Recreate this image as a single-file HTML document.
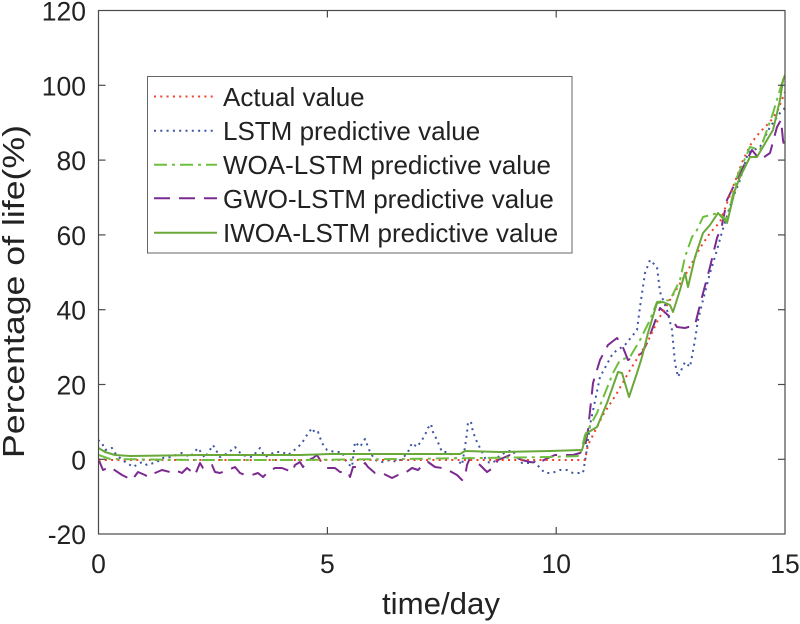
<!DOCTYPE html>
<html><head><meta charset="utf-8"><style>
html,body{margin:0;padding:0;background:#fff;}
svg{display:block;}
text{font-family:"Liberation Sans",Arial,sans-serif;fill:#222;}
</style></head><body>
<svg width="800" height="624" viewBox="0 0 800 624" xmlns="http://www.w3.org/2000/svg">
<defs><clipPath id="pa"><rect x="98.5" y="10.5" width="686.5" height="523.5"/></clipPath></defs>
<rect x="0" y="0" width="800" height="624" fill="#fff"/>
<g clip-path="url(#pa)" fill="none" stroke-width="2" stroke-linejoin="round">
<!-- GWO -->
<polyline stroke="#7b2a8f" stroke-dasharray="16 9" points="98,458 103,470 110,467 122,475 128,478 132,480 138,472 145,475 148,477 155,473 162,470 170,472 175,470 182,473 187,468 192,472 195,475 200,463 203,468 212,465 215,472 220,473 228,470 235,467 240,473 245,475 252,475 258,473 263,477 268,472 275,468 282,468 292,472 295,465 300,462 303,467 308,460 313,458 317,455 322,463 327,468 335,468 340,472 348,472 350,477 353,467 360,467 365,463 368,467 375,473 382,473 392,478 398,475 405,473 412,468 418,470 423,465 428,462 435,467 442,468 448,470 457,475 462,480 465,477 467,465 470,458 473,460 480,465 487,472 493,468 498,460 503,458 510,455 517,458 522,460 530,462 537,463 540,462 548,458 555,455 562,455 573,455 580,453 585,447 588,430 593,383 600,360 608,345 617,338 622,345 628,360 635,357 642,353 647,343 653,327 660,308 670,317 677,327 685,328 695,325 702,297 710,267 717,238 722,225 727,200 740,173 752,150 760,160 770,153 777,127 781,120 783,140 785,150"/>
<!-- LSTM -->
<polyline stroke="#3e54a3" stroke-dasharray="2 4.3" points="98,440 102,443 105,450 112,448 115,453 122,460 127,463 133,467 142,462 147,465 157,462 162,458 170,457 182,453 190,457 198,448 205,458 213,445 220,457 228,453 235,447 242,455 252,457 260,448 265,457 275,452 282,452 288,455 297,448 302,443 307,435 312,428 315,433 318,432 322,443 327,450 335,452 342,452 347,463 352,467 355,442 360,447 365,439 370,452 375,460 382,462 390,460 397,462 403,458 408,452 412,443 417,447 422,440 425,435 428,428 431,424 433,432 437,440 442,452 448,452 455,457 462,465 465,447 467,433 468,422 471,422 473,432 477,442 482,452 487,462 493,463 500,455 507,452 512,450 517,457 522,463 528,463 535,462 540,468 545,473 552,473 560,470 567,470 573,473 583,473 586,455 590,425 600,377 613,353 625,345 637,330 640,307 645,273 650,260 657,267 660,292 667,310 672,330 675,363 678,377 685,362 690,367 695,340 698,320 703,300 710,273 717,250 722,232 732,200 740,180 748,153 760,147 770,127 780,113 785,108"/>
<!-- Actual -->
<polyline stroke="#f0402a" stroke-dasharray="2 4.3" points="98.5,460 585,460 588,445 603,415 617,393 630,370 647,343 658,320 670,300 687,272 700,248 710,233 720,222 730,195 743,160 752,142 760,132 770,122 778,110 785,92"/>
<!-- WOA -->
<polyline stroke="#6fbf3f" stroke-dasharray="13 5 3 5" points="98.5,455 110,459 200,460 300,460 400,459 480,458 550,457 580,456 585,435 597,413 613,373 620,360 630,357 640,340 650,320 657,302 670,300 680,280 685,257 692,237 697,230 703,217 718,213 727,220 737,177 750,147 760,150 773,113 782,83 785,78"/>
<!-- IWOA -->
<polyline stroke="#6aa83a" points="98.5,448 105,452 115,455 130,456 200,455 300,455 330,454 400,454 460,454 465,451 500,452 550,451 582,450 587,433 597,427 607,403 618,372 622,373 629,397 637,373 642,357 648,333 657,303 663,302 670,305 673,312 680,290 685,273 688,287 695,257 703,233 710,225 718,213 727,223 735,190 740,177 750,157 757,157 767,140 773,130 777,113 780,100 783,80 785,75"/>
</g>
<!-- axes box -->
<rect x="98.5" y="10.5" width="686.5" height="523.5" fill="none" stroke="#4a4a4a" stroke-width="1.2"/>
<g stroke="#4a4a4a" stroke-width="1.2">
<line x1="98.5" y1="459.3" x2="105.5" y2="459.3"/><line x1="785" y1="459.3" x2="778" y2="459.3"/>
<line x1="98.5" y1="384.5" x2="105.5" y2="384.5"/><line x1="785" y1="384.5" x2="778" y2="384.5"/>
<line x1="98.5" y1="309.7" x2="105.5" y2="309.7"/><line x1="785" y1="309.7" x2="778" y2="309.7"/>
<line x1="98.5" y1="234.9" x2="105.5" y2="234.9"/><line x1="785" y1="234.9" x2="778" y2="234.9"/>
<line x1="98.5" y1="160.1" x2="105.5" y2="160.1"/><line x1="785" y1="160.1" x2="778" y2="160.1"/>
<line x1="98.5" y1="85.3" x2="105.5" y2="85.3"/><line x1="785" y1="85.3" x2="778" y2="85.3"/>
<line x1="327.4" y1="534" x2="327.4" y2="527"/><line x1="327.4" y1="10.5" x2="327.4" y2="17.5"/>
<line x1="556.2" y1="534" x2="556.2" y2="527"/><line x1="556.2" y1="10.5" x2="556.2" y2="17.5"/>
</g>
<!-- y tick labels -->
<g font-size="26.5" text-anchor="end">
<text x="86" y="544">-20</text>
<text x="86" y="469.3">0</text>
<text x="86" y="394.5">20</text>
<text x="86" y="319.7">40</text>
<text x="86" y="244.9">60</text>
<text x="86" y="170.1">80</text>
<text x="86" y="95.3">100</text>
<text x="86" y="20.5">120</text>
</g>
<!-- x tick labels -->
<g font-size="26.5" text-anchor="middle">
<text x="98.5" y="573">0</text>
<text x="327.4" y="573">5</text>
<text x="556.2" y="573">10</text>
<text x="785" y="573">15</text>
</g>
<text x="441" y="614" font-size="31" text-anchor="middle" textLength="118" lengthAdjust="spacingAndGlyphs">time/day</text>
<text transform="translate(24,291.5) rotate(-90)" font-size="31" text-anchor="middle" textLength="333" lengthAdjust="spacingAndGlyphs">Percentage of life(%)</text>
<!-- legend -->
<rect x="147.5" y="76.5" width="424.5" height="176.5" fill="#fff" stroke="#666" stroke-width="1"/>
<g fill="none" stroke-width="2">
<line x1="154" y1="96.5" x2="217" y2="96.5" stroke="#f0402a" stroke-dasharray="2 4.3"/>
<line x1="154" y1="130.7" x2="217" y2="130.7" stroke="#3e54a3" stroke-dasharray="2 4.3"/>
<line x1="154" y1="164.7" x2="217" y2="164.7" stroke="#6fbf3f" stroke-dasharray="13 5 3 5"/>
<line x1="154" y1="198.3" x2="217" y2="198.3" stroke="#7b2a8f" stroke-dasharray="16 9"/>
<line x1="154" y1="232.7" x2="217" y2="232.7" stroke="#6aa83a"/>
</g>
<g font-size="26">
<text x="223" y="106">Actual value</text>
<text x="223" y="140">LSTM predictive value</text>
<text x="223" y="174">WOA-LSTM predictive value</text>
<text x="223" y="208">GWO-LSTM predictive value</text>
<text x="223" y="242">IWOA-LSTM predictive value</text>
</g>
</svg>
</body></html>
